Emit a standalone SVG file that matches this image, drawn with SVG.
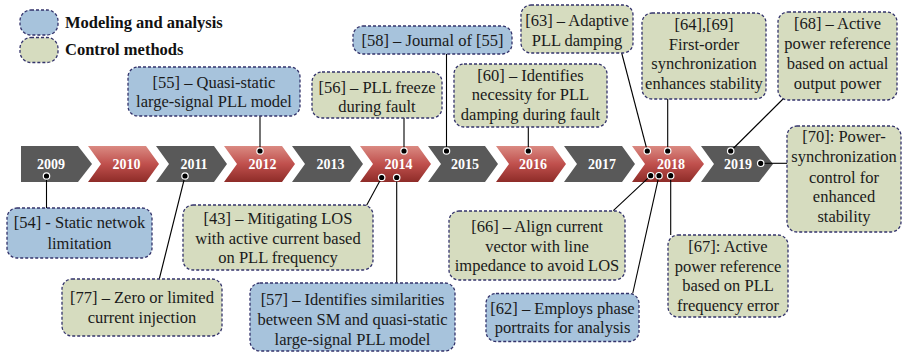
<svg xmlns="http://www.w3.org/2000/svg" width="903" height="355" viewBox="0 0 903 355">
<defs>
<linearGradient id="red" x1="0" y1="0" x2="0" y2="1">
<stop offset="0" stop-color="#da8a82"/>
<stop offset="0.5" stop-color="#c0504d"/>
<stop offset="1" stop-color="#8e2c28"/>
</linearGradient>
</defs>
<style>
.box{stroke:#33336b;stroke-width:1.3;stroke-dasharray:3 2}
.blue{fill:#a7c3dc}
.green{fill:#d6dcbf}
text{font-family:'Liberation Serif','Times New Roman',Tinos,'DejaVu Serif',serif}
.t{font-size:16.5px;fill:#1a1a1a;text-anchor:middle}
.leg{font-size:16.5px;font-weight:bold;fill:#111}
.yr{font-size:14px;font-weight:bold;fill:#fff;text-anchor:middle}
.gray{fill:#595959}
.redf{fill:url(#red)}
.ln{stroke:#000;stroke-width:1.1;fill:none}
.dot{fill:#000;stroke:#fff;stroke-width:1.2}
</style>
<rect width="903" height="355" fill="#fff"/>

<g id="legend" font-family="Liberation Serif, serif">
<rect class="box blue" x="20" y="10" width="38" height="25" rx="11"/>
<text class="leg" x="65" y="27.5">Modeling and analysis</text>
<rect class="box green" x="20" y="37.5" width="38" height="25" rx="11"/>
<text class="leg" x="65" y="54.5">Control methods</text>
</g>

<g id="timeline" font-family="Liberation Serif, serif">
<g id="y2009"><polygon class="gray" points="21,146 78,146 92,164 78,182 21,182"/><text class="yr" x="51" y="168.5">2009</text></g>
<g id="y2010"><polygon class="redf" points="88,146 146,146 159,164 146,182 88,182 101,164"/><text class="yr" x="126.5" y="168.5">2010</text></g>
<g id="y2011"><polygon class="gray" points="156,146 214,146 227,164 214,182 156,182 169,164"/><text class="yr" x="194" y="168.5">2011</text></g>
<g id="y2012"><polygon class="redf" points="224,146 282,146 295,164 282,182 224,182 237,164"/><text class="yr" x="262.5" y="168.5">2012</text></g>
<g id="y2013"><polygon class="gray" points="292,146 350,146 363,164 350,182 292,182 305,164"/><text class="yr" x="330.5" y="168.5">2013</text></g>
<g id="y2014"><polygon class="redf" points="360,146 418,146 431,164 418,182 360,182 373,164"/><text class="yr" x="398.5" y="168.5">2014</text></g>
<g id="y2015"><polygon class="gray" points="428,146 485,146 498,164 485,182 428,182 441,164"/><text class="yr" x="465" y="168.5">2015</text></g>
<g id="y2016"><polygon class="redf" points="496,146 553,146 566,164 553,182 496,182 509,164"/><text class="yr" x="533" y="168.5">2016</text></g>
<g id="y2017"><polygon class="gray" points="564,146 622,146 635,164 622,182 564,182 577,164"/><text class="yr" x="602" y="168.5">2017</text></g>
<g id="y2018"><polygon class="redf" points="632,146 690,146 704,164 690,182 632,182 645,164"/><text class="yr" x="671" y="168.5">2018</text></g>
<g id="y2019"><polygon class="gray" points="701,146 759,146 773,164 759,182 701,182 714,164"/><text class="yr" x="738" y="168.5">2019</text></g>
</g>

<g id="connectors">
<line class="ln" x1="46.5" y1="176" x2="46.5" y2="208"/>
<line class="ln" x1="185" y1="176" x2="159.3" y2="279"/>
<line class="ln" x1="260" y1="151" x2="260" y2="116"/>
<line class="ln" x1="404" y1="151" x2="404" y2="118"/>
<line class="ln" x1="381.7" y1="177.5" x2="366.5" y2="205.5"/>
<line class="ln" x1="396.7" y1="177.5" x2="396.7" y2="283"/>
<line class="ln" x1="446.5" y1="151" x2="446.5" y2="54"/>
<line class="ln" x1="528.3" y1="151" x2="528.3" y2="127"/>
<line class="ln" x1="647.3" y1="151" x2="621.7" y2="53"/>
<line class="ln" x1="667.7" y1="151" x2="667.7" y2="99"/>
<line class="ln" x1="730.7" y1="151" x2="783.5" y2="98.5"/>
<line class="ln" x1="760.7" y1="163.3" x2="787" y2="163.3"/>
<line class="ln" x1="650.7" y1="175.7" x2="613.3" y2="210.7"/>
<line class="ln" x1="659" y1="175.7" x2="632.7" y2="293.5"/>
<line class="ln" x1="670.7" y1="175.7" x2="670.7" y2="235"/>
<circle class="dot" cx="46.5" cy="176" r="3.2"/>
<circle class="dot" cx="185" cy="176" r="3.2"/>
<circle class="dot" cx="260" cy="151" r="3.2"/>
<circle class="dot" cx="404" cy="151" r="3.2"/>
<circle class="dot" cx="381.7" cy="177.5" r="3.2"/>
<circle class="dot" cx="396.7" cy="177.5" r="3.2"/>
<circle class="dot" cx="446.5" cy="151" r="3.2"/>
<circle class="dot" cx="528.3" cy="151" r="3.2"/>
<circle class="dot" cx="647.3" cy="151" r="3.2"/>
<circle class="dot" cx="667.7" cy="151" r="3.2"/>
<circle class="dot" cx="730.7" cy="151" r="3.2"/>
<circle class="dot" cx="760.7" cy="163.3" r="3.2"/>
<circle class="dot" cx="650.7" cy="175.7" r="3.2"/>
<circle class="dot" cx="659" cy="175.7" r="3.2"/>
<circle class="dot" cx="670.7" cy="175.7" r="3.2"/>
</g>

<g id="nodes" font-family="Liberation Serif, serif">
<g id="n55"><rect class="box blue" x="128" y="67" width="172" height="49" rx="10"/>
<text class="t" x="214" y="87.5">[55] – Quasi-static</text><text class="t" x="214" y="107">large-signal PLL model</text></g>

<g id="n58"><rect class="box blue" x="353" y="26" width="159" height="28" rx="10"/>
<text class="t" x="432.5" y="45.5">[58] – Journal of [55]</text></g>

<g id="n63"><rect class="box green" x="521" y="5" width="112" height="48" rx="10"/>
<text class="t" x="577" y="26">[63] – Adaptive</text><text class="t" x="577" y="45.5">PLL damping</text></g>

<g id="n56"><rect class="box green" x="312" y="72" width="130" height="46" rx="10"/>
<text class="t" x="377" y="92.5">[56] – PLL freeze</text><text class="t" x="377" y="112">during fault</text></g>

<g id="n60"><rect class="box green" x="454" y="64" width="153" height="63" rx="10"/>
<text class="t" x="530.5" y="80.5">[60] – Identifies</text><text class="t" x="530.5" y="100">necessity for PLL</text><text class="t" x="530.5" y="119.5">damping during fault</text></g>

<g id="n64"><rect class="box green" x="642" y="13" width="124" height="86" rx="10"/>
<text class="t" x="704" y="29.5">[64],[69]</text><text class="t" x="704" y="49.5">First-order</text><text class="t" x="704" y="69">synchronization</text><text class="t" x="704" y="89">enhances stability</text></g>

<g id="n68"><rect class="box green" x="778" y="12" width="119" height="88" rx="10"/>
<text class="t" x="837.5" y="28.5">[68] – Active</text><text class="t" x="837.5" y="48.5">power reference</text><text class="t" x="837.5" y="68.5">based on actual</text><text class="t" x="837.5" y="88.5">output power</text></g>

<g id="n70"><rect class="box green" x="787" y="126" width="114" height="106" rx="10"/>
<text class="t" x="844" y="142">[70]: Power-</text><text class="t" x="844" y="162.3">synchronization</text><text class="t" x="844" y="182.5">control for</text><text class="t" x="844" y="202">enhanced</text><text class="t" x="844" y="222">stability</text></g>

<g id="n54"><rect class="box blue" x="7" y="208" width="145" height="50" rx="10"/>
<text class="t" x="79.5" y="227.5">[54] - Static netwok</text><text class="t" x="79.5" y="249">limitation</text></g>

<g id="n43"><rect class="box green" x="183" y="205" width="190" height="65" rx="10"/>
<text class="t" x="278" y="223.5">[43] – Mitigating LOS</text><text class="t" x="278" y="243.5">with active current based</text><text class="t" x="278" y="263">on PLL frequency</text></g>

<g id="n77"><rect class="box green" x="62" y="279" width="160" height="57" rx="10"/>
<text class="t" x="142" y="303">[77] – Zero or limited</text><text class="t" x="142" y="323">current injection</text></g>

<g id="n57"><rect class="box blue" x="250" y="283" width="205" height="68" rx="10"/>
<text class="t" x="352.5" y="304.5">[57] – Identifies similarities</text><text class="t" x="352.5" y="324.5">between SM and quasi-static</text><text class="t" x="352.5" y="344.5">large-signal PLL model</text></g>

<g id="n66"><rect class="box green" x="449" y="211" width="176" height="69" rx="10"/>
<text class="t" x="537" y="232">[66] – Align current</text><text class="t" x="537" y="251.5">vector with line</text><text class="t" x="537" y="271">impedance to avoid LOS</text></g>

<g id="n62"><rect class="box blue" x="486" y="293.5" width="153" height="48" rx="10"/>
<text class="t" x="562.5" y="313.5">[62] – Employs phase</text><text class="t" x="562.5" y="333">portraits for analysis</text></g>

<g id="n67"><rect class="box green" x="668" y="235" width="120" height="82" rx="10"/>
<text class="t" x="728" y="252">[67]: Active</text><text class="t" x="728" y="271.5">power reference</text><text class="t" x="728" y="291">based on PLL</text><text class="t" x="728" y="310.5">frequency error</text></g>
</g>
</svg>
